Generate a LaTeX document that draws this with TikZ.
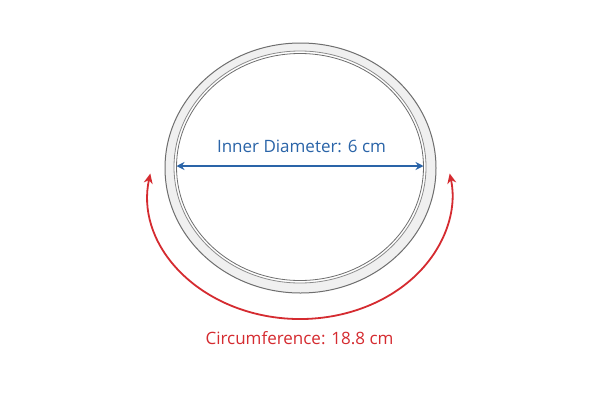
\documentclass[tikz,border=0pt]{standalone}
\usepackage{fontspec}
\setmainfont{Open Sans}
\usetikzlibrary{arrows.meta}
\definecolor{dimblue}{HTML}{2A64A8}
\definecolor{circred}{HTML}{D52B30}
\definecolor{ringfill}{HTML}{F0F0F0}
\definecolor{ringline}{HTML}{6E6E6E}
\tikzset{
  label/.style={font=\fontsize{17}{19}\selectfont, inner sep=0pt},
  dimarrow/.style={dimblue, line width=1.4pt, {Stealth[length=8pt,width=8pt]}-{Stealth[length=8pt,width=8pt]}},
  circarrow/.style={circred, line width=1.8pt, {Stealth[length=10pt,width=9pt]}-{Stealth[length=10pt,width=9pt]}},
}
\begin{document}
\begin{tikzpicture}[x=1pt,y=-1pt]
\useasboundingbox (0,0) rectangle (600,400);
\fill[white] (0,0) rectangle (600,400);
% ring band
\fill[ringfill, even odd rule] (300.5,168) ellipse [x radius=135.5, y radius=125]
  (300,167) ellipse [x radius=126, y radius=116];
\draw[ringline, line width=1pt] (300.5,168) ellipse [x radius=135.5, y radius=125];
\draw[ringline!80, line width=0.8pt] (300,167) ellipse [x radius=126, y radius=116];
\draw[ringline, line width=0.8pt] (300,167) ellipse [x radius=123.5, y radius=113.5];
% diameter
\coordinate (dl) at (176.5,166);
\coordinate (dr) at (423.5,166);
\draw[dimarrow] (dl) -- (dr);
\node[label, text=dimblue] (dlabel) at (301.5,146) {Inner Diameter: 6 cm};
% circumference arc
\coordinate (cs) at (150.3,173.5);
\draw[circarrow] (cs) arc[start angle=190, end angle=-10, x radius=152, y radius=124];
\node[label, text=circred] (clabel) at (299.5,338) {Circumference: 18.8 cm};
\end{tikzpicture}
\end{document}
